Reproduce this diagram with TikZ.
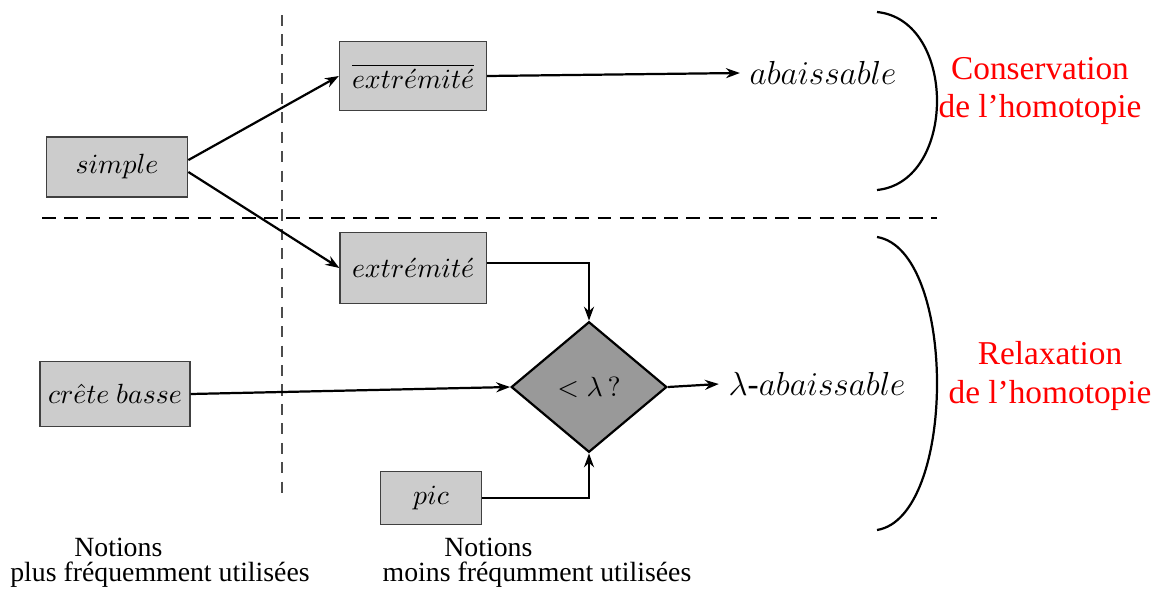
\documentclass[tikz,border=0pt]{standalone}
\usepackage{fontspec}
\setmainfont{Liberation Serif}
\usetikzlibrary{arrows.meta}
\usetikzlibrary{shapes.geometric}

\begin{document}
\begin{tikzpicture}[x=0.36pt, y=-0.36pt,
  boite/.style={draw=black!75, fill=black!20, inner sep=0pt},
  fleche/.style={black, line width=0.8pt, -{Stealth[length=5pt,width=3.6pt]}},
  accolade/.style={black, line width=0.8pt}]
\useasboundingbox (0,0) rectangle (1159,588);

\draw[black!70, dash pattern=on 4pt off 3pt] (282,15)--(282,500);
\draw[black, line width=0.8pt, dash pattern=on 5pt off 3pt] (42,218)--(937,218);

\node[boite, minimum width=51pt, minimum height=21.6pt] (simple) at (117,167) {$simple$};
\node[boite, minimum width=53pt, minimum height=25pt] (extbar) at (413,76) {$\overline{extr\acute{e}mit\acute{e}}$};
\node[boite, minimum width=52.6pt, minimum height=25.6pt] (ext) at (413,268) {$extr\acute{e}mit\acute{e}$};
\node[boite, minimum width=54pt, minimum height=23.4pt] (crete) at (115,394) {$cr\hat{e}te\ basse$};
\node[boite, minimum width=36.4pt, minimum height=19pt] (pic) at (431,498) {$pic$};
\node[diamond, draw, line width=0.8pt, fill=black!40, minimum width=56pt, minimum height=47pt, inner sep=0pt] (test) at (589,387) {$<\lambda\,?$};

\node[font=\large] (abais) at (823,73) {$abaissable$};
\node[font=\large] (labais) at (817,384) {$\lambda$-$abaissable$};

\draw[fleche] ([yshift=2.5pt]simple.east) -- (extbar.west);
\draw[fleche] ([yshift=-1.8pt]simple.east) -- (ext.west);
\draw[fleche] (extbar.east) -- (abais.west);
\draw[fleche] ([yshift=1.8pt]ext.east) -| (test.north);
\draw[fleche] (crete.east) -- (test.west);
\draw[fleche] (pic.east) -| (test.south);
\draw[fleche] (test.east) -- (labais.west);

\draw[accolade] (877,12) .. controls (957,20) and (957,182) .. (877,190);
\draw[accolade] (877,237) .. controls (957,250) and (957,517) .. (877,530);

\node[red, font=\large, align=center] (conserv) at (1040,91) {Conservation\\de l'homotopie};
\node[red, font=\large, align=center] (relax) at (1050,376) {Relaxation\\de l'homotopie};

\node[align=center] (plus) at (160,563) {Notions\hspace*{30pt}\\[-3pt]plus fréquemment utilisées};
\node[align=center] (moins) at (537,563) {Notions\hspace*{35pt}\\[-3pt]moins fréqumment utilisées};
\end{tikzpicture}
\end{document}
